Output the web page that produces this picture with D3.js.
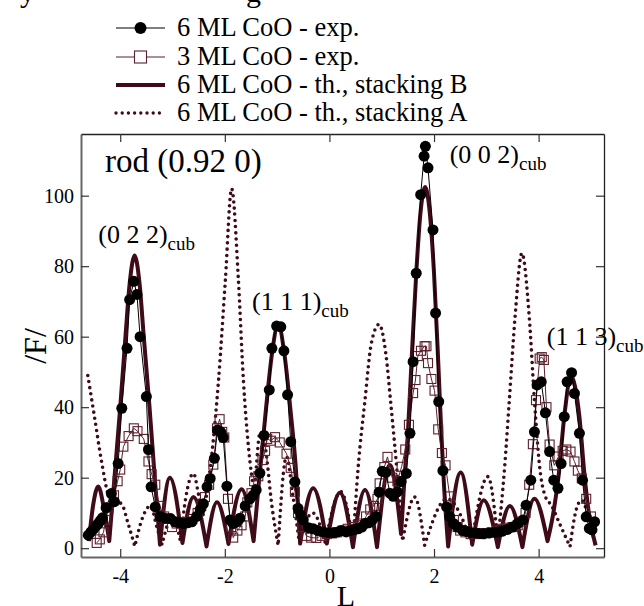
<!DOCTYPE html>
<html>
<head>
<meta charset="utf-8">
<script src="https://cdn.jsdelivr.net/npm/d3@7"></script>
<style>
  body { margin: 0; background: #fff; }
  svg { display: block; }
  text { font-family: "Liberation Serif", "Times New Roman", serif; fill: #000; }
</style>
</head>
<body>
<svg id="chart" width="644" height="606"></svg>
<script>
// 6 ML CoO - exp. (L, |F|)
const exp6ml = [
  [-4.61,3.7],[-4.56,4.6],[-4.51,5.4],[-4.46,6.3],[-4.42,7.0],[-4.38,7.8],[-4.34,8.6],[-4.27,11.5],
  [-4.17,15.5],[-4.11,13.2],[-4.04,24],[-3.97,39.7],[-3.87,56.7],[-3.82,70.5],[-3.74,75.7],[-3.68,72],
  [-3.62,60],[-3.50,43],[-3.46,28],[-3.41,17.4],[-3.33,11.7],[-3.24,9],[-3.14,8.5],[-3.04,8.4],
  [-2.95,7.5],[-2.87,7.2],[-2.79,7],[-2.71,7.2],[-2.63,7.5],[-2.54,9],[-2.47,11],[-2.41,12.6],
  [-2.34,17.4],[-2.28,19.8],[-2.20,25.5],[-2.14,33.5],[-2.08,33],[-2.03,31.4],[-1.96,17.6],[-1.90,8],
  [-1.84,7],[-1.77,7.5],[-1.71,8.5],[-1.61,12],[-1.52,14],[-1.46,15],[-1.40,16.5],[-1.33,21.3],
  [-1.25,32],[-1.15,44.9],[-1.10,56.7],[-1.01,63],[-0.93,62.8],[-0.87,56],[-0.80,43.5],[-0.74,30.2],
  [-0.66,18.8],[-0.60,11.3],[-0.55,9.5],[-0.50,8],[-0.40,5.8],[-0.31,5.5],[-0.22,5],[-0.12,4.6],
  [-0.02,4.4],[0.08,4.4],[0.16,4.6],[0.23,5],[0.32,4.6],[0.40,5],[0.48,5.3],[0.55,5.5],
  [0.62,6],[0.68,7],[0.75,7.2],[0.82,8],[0.89,9],[0.95,15.9],[1.01,21.8],[1.08,21.5],
  [1.155,15.6],[1.22,14.7],[1.30,16],[1.37,18.9],[1.47,21.2],[1.54,32.6],[1.60,52.9],[1.66,78],
  [1.745,100.3],[1.81,111.2],[1.835,114],[1.885,107.9],[1.98,90.3],[2.03,66.7],[2.09,41.6],[2.17,22],
  [2.24,11.7],[2.30,9],[2.37,7],[2.45,6],[2.55,5],[2.63,4.7],[2.71,4.4],[2.79,4.3],
  [2.87,4.2],[2.95,4.1],[3.05,4.3],[3.15,4.5],[3.22,4.6],[3.30,4.8],[3.40,5.3],[3.50,6],
  [3.60,7],[3.70,8],[3.76,12.2],[3.85,19.3],[3.92,33],[3.97,46.3],[4.05,47.2],[4.13,38.4],
  [4.21,27.4],[4.29,19.3],[4.37,17],[4.43,24],[4.49,37.3],[4.545,47.2],[4.63,49.8],[4.685,43.9],
  [4.78,32.6],[4.84,19.3],[4.91,8.9],[4.97,5.6],[5.02,5.2],[5.07,7.5]
];

// 3 ML CoO - exp.
const exp3ml = [
  [-4.45,1.5],[-4.39,2.5],[-4.32,4.5],[-4.28,8],[-4.22,11.5],[-4.12,15],[-4.05,19],[-4.0,22.3],
  [-3.94,28.8],[-3.84,31.8],[-3.74,34],[-3.67,33.2],[-3.55,31],[-3.46,24.6],[-3.40,21],[-3.33,18],
  [-3.25,12],[-3.16,9],[-3.08,8.3],[-3.01,6],[-2.92,7],[-2.82,7.3],[-2.72,7.5],[-2.62,8.3],
  [-2.52,10],[-2.45,12],[-2.38,14.5],[-2.30,18],[-2.22,23.7],[-2.15,34],[-2.10,36.6],[-2.05,33],
  [-2.01,31.4],[-1.94,14],[-1.88,6],[-1.84,3],[-1.76,5],[-1.68,6.5],[-1.61,9],[-1.57,13],
  [-1.49,15.6],[-1.44,19],[-1.36,20.4],[-1.28,25],[-1.23,27.6],[-1.19,31],[-1.12,30.5],[-1.04,31.5],
  [-0.95,30],[-0.82,26.8],[-0.74,22.8],[-0.66,16],[-0.60,10],[-0.52,6],[-0.44,3.5],[-0.35,3],
  [-0.25,2.9],[-0.15,3.5],[-0.05,4],[0.05,4.2],[0.15,4.5],[0.25,5],[0.35,5.5],[0.45,6],
  [0.55,6.5],[0.62,7],[0.70,9],[0.78,11],[0.85,12],[0.92,14],[0.96,18.4],[1.05,23],
  [1.11,25.9],[1.2,20],[1.3,19],[1.38,23.1],[1.45,28],[1.52,35],[1.6,44],[1.645,47.7],
  [1.69,54.5],[1.75,56],[1.82,57.3],[1.855,57.3],[1.885,52.5],[1.95,48],[2.01,44.7],[2.08,33.7],
  [2.15,27],[2.22,23.5],[2.30,14.7],[2.38,8],[2.45,6],[2.5,5],[2.6,4.5],[2.7,4],
  [2.8,4.2],[2.9,4],[3.0,4.3],[3.1,4.5],[3.2,5],[3.3,5.5],[3.4,5.8],[3.5,6],
  [3.6,6.5],[3.68,7.5],[3.75,10],[3.82,18],[3.89,29.5],[3.95,42],[4.02,53.8],[4.06,54.2],
  [4.10,53.4],[4.15,40],[4.21,29.4],[4.30,23.5],[4.38,26],[4.46,27.6],[4.53,28],[4.61,27.4],
  [4.685,24.6],[4.75,22],[4.825,19.8],[4.91,14],[5.0,9]
];

// 6 ML CoO - th., stacking B
const thB = [
  [-4.60,2],[-4.52,12],[-4.42,17.5],[-4.32,12],[-4.21,2],
  [-4.11,20],[-4.0,40],[-3.90,60],[-3.82,75],[-3.725,83],[-3.63,75],[-3.55,60],[-3.44,40],[-3.34,20],[-3.24,1],
  [-3.05,20],[-2.81,1.5],[-2.60,14.5],[-2.35,0.5],[-2.15,13],[-1.93,1.2],[-1.68,16.7],[-1.45,2],
  [-1.34,20],[-1.21,40],[-1.10,55],[-0.98,63.5],[-0.86,55],[-0.75,40],[-0.63,20],[-0.56,1.3],
  [-0.31,17],[-0.05,1.3],[0.2,15.7],[0.45,0.3],[0.68,16.5],[0.91,0.3],[1.155,23.6],[1.37,4],
  [1.44,21],[1.50,32.6],[1.57,53],[1.66,78],[1.74,95],[1.83,102.5],[1.92,95],[2.0,78],[2.08,53],
  [2.14,32.6],[2.19,18],[2.27,0.5],
  [2.51,21.5],[2.73,1],[2.95,13.6],[3.22,0.3],[3.45,12],[3.69,0.3],[3.92,14],[4.17,2],
  [4.27,9],[4.38,20.3],[4.49,37.3],[4.62,48.7],[4.78,37.3],[4.88,20.3],[4.97,9],[5.09,0.8]
];

// 6 ML CoO - th., stacking A
const thA = [
  [-4.62,49],[-4.50,38],[-4.35,24],[-4.22,15],[-4.10,13.5],[-3.97,12.5],[-3.85,7],[-3.72,0.5],
  [-3.6,7.5],[-3.42,12],[-3.3,6],[-3.2,1],[-3.0,9],[-2.85,2],[-2.75,14],[-2.6,21.2],[-2.5,15],[-2.42,9],
  [-2.32,18],[-2.22,30.7],[-2.12,47.7],[-1.99,76],[-1.87,102],[-1.74,76],[-1.645,47.7],[-1.55,29],[-1.43,15],
  [-1.32,33],[-1.23,29],[-1.1,12],[-0.98,0.8],
  [-0.82,26],[-0.7,15],[-0.58,2],[-0.32,10],[-0.08,1.5],[0.22,16],[0.45,1.5],
  [0.55,23],[0.68,42],[0.8,58],[0.95,63.5],[1.08,55],[1.18,40],[1.28,24],[1.4,2],
  [1.63,14.5],[1.82,0.8],[2.25,14],[2.72,1.5],[3.03,20.3],[3.22,2],
  [3.35,23],[3.44,42],[3.55,65.7],[3.68,83.7],[3.82,65.7],[3.92,42],[4.02,23],[4.12,15],[4.25,12],[4.4,7],[4.6,0.4],
  [4.72,11],[4.82,13.6],[4.95,9],[5.08,1]
];

const xTicks = [-4, -2, 0, 2, 4];
const yTicks = [0, 20, 40, 60, 80, 100];
const legendLabels = ["6 ML CoO - exp.", "3 ML CoO - exp.", "6 ML CoO - th., stacking B", "6 ML CoO - th., stacking A"];
const peakLabels = [
  { hkl: "(0 2 2)", L: -4.42, F: 86.5 },
  { hkl: "(1 1 1)", L: -1.48, F: 67.5 },
  { hkl: "(0 0 2)", L: 2.30, F: 109.2 },
  { hkl: "(1 1 3)", L: 4.155, F: 57.6 }
];

const maroon = "#3f0b18";
const squareCol = "#5c1f2c";

const svg = d3.select("#chart");
const padLeft = 81, padRight = 604, padTop = 134, padBottom = 557;

const x = d3.scaleLinear().domain([-4.75, 5.25]).range([padLeft, padRight]);
const y = d3.scaleLinear().domain([-2.5, 117.5]).range([padBottom, padTop]);

// cut-off caption descenders at the very top
svg.append("text").attr("x", 20).attr("y", 2).attr("font-size", 30).text("y");
svg.append("text").attr("x", 246).attr("y", 2).attr("font-size", 30).text("g");

// axes, ticks inward
const fmt = d => String(d);
const gx = svg.append("g").attr("transform", `translate(0,${padBottom})`)
  .call(d3.axisBottom(x).tickValues(xTicks).tickSizeInner(-8).tickSizeOuter(0).tickPadding(12).tickFormat(fmt));
const gy = svg.append("g").attr("transform", `translate(${padLeft},0)`)
  .call(d3.axisLeft(y).tickValues(yTicks).tickSizeInner(-8).tickSizeOuter(0).tickPadding(7).tickFormat(fmt));
const gt = svg.append("g").attr("transform", `translate(0,${padTop})`)
  .call(d3.axisTop(x).tickValues(xTicks).tickSizeInner(-8).tickSizeOuter(0).tickFormat(""));
const gr = svg.append("g").attr("transform", `translate(${padRight},0)`)
  .call(d3.axisRight(y).tickValues(yTicks).tickSizeInner(-8).tickSizeOuter(0).tickFormat(""));

[gx, gy].forEach(g => {
  g.select(".domain").attr("stroke", "#666").attr("stroke-width", 2);
  g.selectAll(".tick line").attr("stroke", "#333").attr("stroke-width", 1.2);
  g.selectAll(".tick text").attr("font-size", 20).attr("fill", "#000");
});
[gt, gr].forEach(g => {
  g.select(".domain").attr("stroke", "#222").attr("stroke-width", 1.3);
  g.selectAll(".tick line").attr("stroke", "#333").attr("stroke-width", 1.2);
});

// axis titles
svg.append("text").attr("x", 346).attr("y", 606).attr("text-anchor", "middle")
  .attr("font-size", 30).text("L");
svg.append("text").attr("transform", "translate(46,346) rotate(-90)").attr("text-anchor", "middle")
  .attr("font-size", 32).text("/F/");

// theory curves: split at zeros so minima stay sharp
function archPath(pts) {
  const line = d3.line().x(d => x(d[0])).y(d => y(d[1])).curve(d3.curveMonotoneX);
  const segs = [];
  let cur = [pts[0]];
  for (let i = 1; i < pts.length; i++) {
    cur.push(pts[i]);
    const isMin = i < pts.length - 1 && pts[i][1] < pts[i - 1][1] && pts[i][1] < pts[i + 1][1];
    if (isMin) { segs.push(cur); cur = [pts[i]]; }
  }
  if (cur.length > 1) segs.push(cur);
  return segs.map((s, i) => i ? line(s).replace(/^M/, "L") : line(s)).join("");
}

svg.append("path").attr("d", archPath(thA))
  .attr("fill", "none").attr("stroke", maroon).attr("stroke-width", 3.6)
  .attr("stroke-linecap", "round").attr("stroke-dasharray", "0 6.2");

svg.append("path").attr("d", archPath(thB))
  .attr("fill", "none").attr("stroke", maroon).attr("stroke-width", 4)
  .attr("stroke-linejoin", "round");

// 3 ML exp.
const lin = d3.line().x(d => x(d[0])).y(d => y(d[1]));
svg.append("path").attr("d", lin(exp3ml)).attr("fill", "none").attr("stroke", squareCol).attr("stroke-width", 1);
svg.append("g").selectAll("rect").data(exp3ml).join("rect")
  .attr("x", d => x(d[0]) - 4.5).attr("y", d => y(d[1]) - 4.5)
  .attr("width", 9).attr("height", 9)
  .attr("fill", "none").attr("stroke", squareCol).attr("stroke-width", 1.1);

// 6 ML exp.
svg.append("path").attr("d", lin(exp6ml)).attr("fill", "none").attr("stroke", "#000").attr("stroke-width", 1);
svg.append("g").selectAll("circle").data(exp6ml).join("circle")
  .attr("cx", d => x(d[0])).attr("cy", d => y(d[1])).attr("r", 5.5).attr("fill", "#000");

// labels
svg.append("text").attr("x", x(-4.29)).attr("y", y(106.7)).attr("font-size", 33).text("rod (0.92 0)");
const pl = svg.append("g").selectAll("text").data(peakLabels).join("text")
  .attr("x", d => x(d.L)).attr("y", d => y(d.F)).attr("font-size", 26);
pl.append("tspan").text(d => d.hkl);
pl.append("tspan").attr("font-size", 19).attr("dy", 7).text("cub");

// legend
const lg = svg.append("g");
const rowY = [28, 57, 85, 113];
legendLabels.forEach((lab, i) => {
  const ry = rowY[i];
  const row = lg.append("g");
  const ln = row.append("line").attr("x1", 116).attr("x2", 165).attr("y1", ry).attr("y2", ry);
  if (i === 0) {
    ln.attr("stroke", "#000").attr("stroke-width", 1);
    row.append("circle").attr("cx", 140.5).attr("cy", ry).attr("r", 6).attr("fill", "#000");
  } else if (i === 1) {
    ln.attr("stroke", squareCol).attr("stroke-width", 1);
    row.append("rect").attr("x", 134.5).attr("y", ry - 6).attr("width", 12).attr("height", 12)
      .attr("fill", "#fff").attr("stroke", squareCol).attr("stroke-width", 1.1);
  } else if (i === 2) {
    ln.attr("stroke", maroon).attr("stroke-width", 4);
  } else {
    ln.attr("stroke", maroon).attr("stroke-width", 3.4).attr("stroke-linecap", "round").attr("stroke-dasharray", "0 6.2");
  }
  row.append("text").attr("x", 177).attr("y", ry + 8).attr("font-size", 26.5).text(lab);
});
</script>
</body>
</html>
